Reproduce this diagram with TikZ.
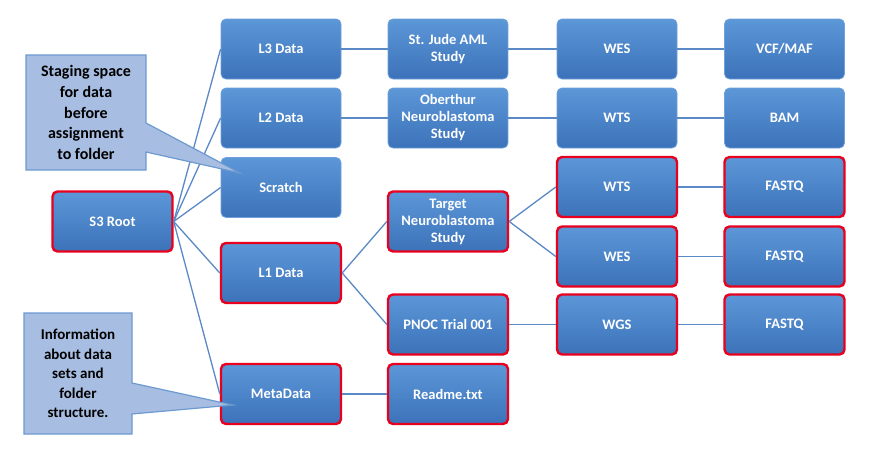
\documentclass[tikz,border=0pt]{standalone}
\usepackage{fontspec}
\setmainfont{Carlito}
\definecolor{boxtop}{HTML}{5C97D8}
\definecolor{boxbot}{HTML}{3C72B9}
\definecolor{boxedge}{HTML}{6FA0DB}
\definecolor{redge}{HTML}{E8001E}
\definecolor{linkc}{HTML}{5A89C6}
\definecolor{callfill}{HTML}{A7BDE1}
\definecolor{calledge}{HTML}{6D9AD0}
\tikzset{
  fbox/.style={rectangle, rounded corners=5pt, minimum width=120pt, minimum height=60pt,
    top color=boxtop, bottom color=boxbot, draw=boxedge, line width=0.8pt,
    text=white, align=center, inner sep=2pt,
    font=\bfseries\fontsize{14.5}{17}\selectfont},
  redbox/.style={fbox, draw=redge, line width=2.4pt},
  link/.style={draw=linkc, line width=1.3pt},
  callshape/.style={fill=callfill, draw=calledge, line width=1.2pt},
  calltext/.style={align=center, text=black, inner sep=0pt}
}
\begin{document}
\begin{tikzpicture}[x=1pt,y=-1pt]
\useasboundingbox (0,0) rectangle (871,455);
\fill[white] (0,0) rectangle (871,455);
% column 1
\node[redbox] (s3) at (112.5,221.5) {S3 Root};
% column 2
\node[fbox] (l3) at (281,49) {L3 Data};
\node[fbox] (l2) at (281,118) {L2 Data};
\node[fbox] (scr) at (281,187.5) {Scratch};
\node[redbox] (l1) at (281,273) {L1 Data};
\node[redbox] (meta) at (281,394) {MetaData};
% column 3
\node[fbox] (jude) at (448,49) {St. Jude AML\\Study};
\node[fbox] (ober) at (448,118) {Oberthur\\Neuroblastoma\\Study};
\node[redbox] (targ) at (448,221.5) {Target\\Neuroblastoma\\Study};
\node[redbox] (pnoc) at (448,324.5) {PNOC Trial 001};
\node[redbox] (read) at (448,394) {Readme.txt};
% column 4
\node[fbox] (wes1) at (617,49) {WES};
\node[fbox] (wts1) at (617,118) {WTS};
\node[redbox] (wts2) at (617,187) {WTS};
\node[redbox] (wes2) at (617,256.5) {WES};
\node[redbox] (wgs) at (617,324.5) {WGS};
% column 5
\node[fbox] (vcf) at (784.5,49) {VCF/MAF};
\node[fbox] (bam) at (784.5,118) {BAM};
\node[redbox] (fq1) at (784.5,187) {FASTQ};
\node[redbox] (fq2) at (784.5,256.5) {FASTQ};
\node[redbox] (fq3) at (784.5,324.5) {FASTQ};
% connectors
\path[link] (s3.east) -- (l3.west);
\path[link] (s3.east) -- (l2.west);
\path[link] (s3.east) -- (scr.west);
\path[link] (s3.east) -- (l1.west);
\path[link] (s3.east) -- (meta.west);
\path[link] (l3.east) -- (jude.west);
\path[link] (l2.east) -- (ober.west);
\path[link] (l1.east) -- (targ.west);
\path[link] (l1.east) -- (pnoc.west);
\path[link] (meta.east) -- (read.west);
\path[link] (jude.east) -- (wes1.west);
\path[link] (ober.east) -- (wts1.west);
\path[link] (targ.east) -- (wts2.west);
\path[link] (targ.east) -- (wes2.west);
\path[link] (pnoc.east) -- (wgs.west);
\path[link] (wes1.east) -- (vcf.west);
\path[link] (wts1.east) -- (bam.west);
\path[link] (wts2.east) -- (fq1.west);
\path[link] (wes2.east) -- (fq2.west);
\path[link] (wgs.east) -- (fq3.west);
% callout 1
\coordinate (c1tip) at (240,173);
\path[callshape] (26,55) -- (146,55) -- (146,123) -- (c1tip) -- (146,152) -- (146,170) -- (26,170) -- cycle;
\node[calltext, font=\bfseries\fontsize{16}{20.8}\selectfont] (call1) at (86,112.5)
  {Staging space\\for data\\before\\assignment\\to folder};
% callout 2
\coordinate (c2tip) at (233,405);
\path[callshape] (24,313) -- (132,313) -- (132,383) -- (c2tip) -- (132,414) -- (132,434) -- (24,434) -- cycle;
\node[calltext, font=\bfseries\fontsize{15}{19.4}\selectfont] (call2) at (78,373.5)
  {Information\\about data\\sets and\\folder\\structure.};
\end{tikzpicture}
\end{document}
